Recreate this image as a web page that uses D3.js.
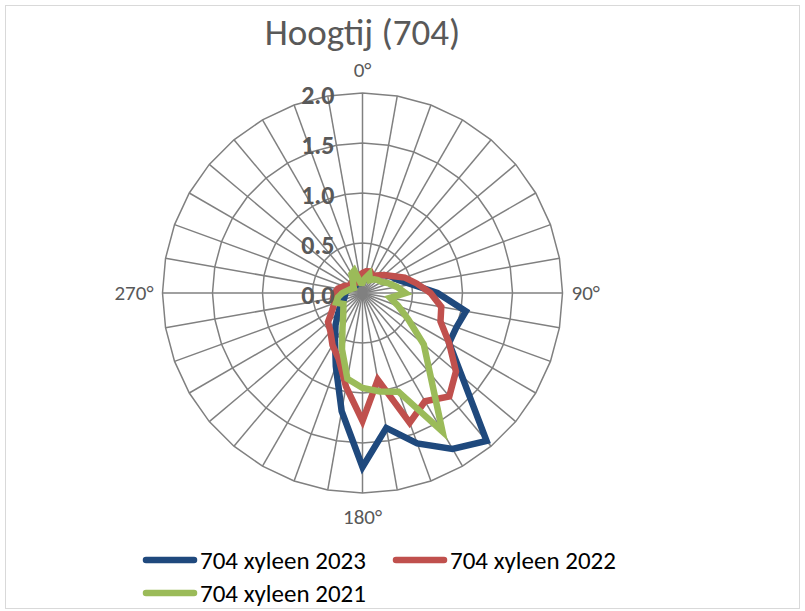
<!DOCTYPE html>
<html>
<head>
<meta charset="utf-8">
<script src="https://cdn.jsdelivr.net/npm/d3@7"></script>
<style>
  body { margin: 0; background: #fff; }
  svg { font-family: Calibri, Carlito, "Liberation Sans", sans-serif; }
</style>
</head>
<body>
<svg id="chart" width="805" height="611"></svg>
<script>
// directions, every 10 degrees
var angles = d3.range(0, 360, 10);
var angleLabels = {0: "0°", 90: "90°", 180: "180°", 270: "270°"};
var ticks = [0, 0.5, 1.0, 1.5, 2.0];

var names = ["704 xyleen 2023", "704 xyleen 2022", "704 xyleen 2021"];
var colors = ["#1F497D", "#C0504D", "#9BBB59"];

var xyleen2023 = [0.12, 0.15, 0.17, 0.18, 0.22, 0.28, 0.33, 0.38, 0.5, 0.75, 1.05, 1.0,
                  1.0, 1.3, 1.93, 1.8, 1.6, 1.37, 1.74, 1.2, 0.78, 0.55, 0.42, 0.32,
                  0.25, 0.2, 0.18, 0.17, 0.15, 0.13, 0.12, 0.12, 0.1, 0.1, 0.1, 0.1];
var xyleen2022 = [0.2, 0.22, 0.23, 0.2, 0.23, 0.28, 0.34, 0.45, 0.55, 0.68, 0.8, 0.83,
                  1.0, 1.22, 1.35, 1.25, 1.38, 0.88, 1.28, 0.95, 0.7, 0.6, 0.5, 0.45,
                  0.35, 0.3, 0.3, 0.28, 0.25, 0.2, 0.15, 0.15, 0.12, 0.12, 0.15, 0.18];
var xyleen2021 = [0.1, 0.15, 0.2, 0.15, 0.18, 0.2, 0.22, 0.28, 0.35, 0.43, 0.28, 0.38,
                  0.53, 0.8, 1.05, 1.6, 1.05, 1.0, 0.95, 0.87, 0.6, 0.4, 0.3, 0.25,
                  0.22, 0.28, 0.25, 0.2, 0.15, 0.12, 0.1, 0.12, 0.15, 0.22, 0.24, 0.1];
var series = [xyleen2023, xyleen2022, xyleen2021];

var svg = d3.select("#chart"),
    cx = 362.5, cy = 293, radius = 200;

var r = d3.scaleLinear().domain([0, 2]).range([0, radius]);
var a = d3.scaleLinear().domain([0, 360]).range([0, 2 * Math.PI]);

// chart border
svg.append("rect")
  .attr("x", 5.5).attr("y", 5.5)
  .attr("width", 794).attr("height", 603)
  .attr("fill", "#fff")
  .attr("stroke", "#d9d9d9");

svg.append("text")
  .attr("x", cx).attr("y", 45)
  .attr("text-anchor", "middle")
  .attr("fill", "#595959")
  .style("font-size", "37px")
  .text("Hoogtij (704)");

var g = svg.append("g")
  .attr("transform", "translate(" + cx + "," + cy + ")");

// web gridlines (polygons)
var web = d3.lineRadial()
  .angle(function(d) { return a(d[0]); })
  .radius(function(d) { return r(d[1]); })
  .curve(d3.curveLinearClosed);

g.selectAll(".ring")
  .data(ticks.slice(1))
  .enter().append("path")
  .attr("class", "ring")
  .attr("d", function(t) { return web(angles.map(function(an) { return [an, t]; })); })
  .attr("fill", "none")
  .attr("stroke", "#808080")
  .attr("stroke-width", 1.5);

g.selectAll(".spoke")
  .data(angles)
  .enter().append("line")
  .attr("class", "spoke")
  .attr("x1", 0).attr("y1", 0)
  .attr("x2", function(d) { return r(2) * Math.sin(a(d)); })
  .attr("y2", function(d) { return -r(2) * Math.cos(a(d)); })
  .attr("stroke", "#808080")
  .attr("stroke-width", 1.5);

// data lines
g.selectAll(".series")
  .data(series)
  .enter().append("path")
  .attr("class", "series")
  .attr("d", function(vals) { return web(vals.map(function(v, i) { return [angles[i], v]; })); })
  .attr("fill", "none")
  .attr("stroke", function(d, i) { return colors[i]; })
  .attr("stroke-width", 6.5)
  .attr("stroke-linejoin", "miter");

// value labels on the vertical axis
g.selectAll(".tick")
  .data(ticks)
  .enter().append("text")
  .attr("class", "tick")
  .attr("x", -28)
  .attr("y", function(d) { return -r(d) + 1.5; })
  .attr("dy", "0.35em")
  .attr("text-anchor", "end")
  .attr("fill", "#595959")
  .style("font-size", "26px")
  .style("font-weight", "bold")
  .text(function(d) { return d.toFixed(1); });

// direction labels
var catPos = {
  0:   {x: 0, y: -223, anchor: "middle"},
  90:  {x: 209, y: 0, anchor: "start"},
  180: {x: 0, y: 224, anchor: "middle"},
  270: {x: -209, y: 0, anchor: "end"}
};
g.selectAll(".cat")
  .data(angles.filter(function(d) { return angleLabels[d]; }))
  .enter().append("text")
  .attr("class", "cat")
  .attr("x", function(d) { return catPos[d].x; })
  .attr("y", function(d) { return catPos[d].y; })
  .attr("dy", "0.35em")
  .attr("text-anchor", function(d) { return catPos[d].anchor; })
  .attr("fill", "#595959")
  .style("font-size", "21px")
  .text(function(d) { return angleLabels[d]; });

// legend
var legendPos = [[143, 560], [393, 560], [143, 593]];
var legend = svg.selectAll(".legend")
  .data(names)
  .enter().append("g")
  .attr("class", "legend")
  .attr("transform", function(d, i) { return "translate(" + legendPos[i][0] + "," + legendPos[i][1] + ")"; });

legend.append("line")
  .attr("x1", 3).attr("x2", 51)
  .attr("stroke", function(d, i) { return colors[i]; })
  .attr("stroke-width", 6.5)
  .attr("stroke-linecap", "round");

legend.append("text")
  .attr("x", 57)
  .attr("dy", "0.35em")
  .attr("fill", "#000")
  .style("font-size", "25px")
  .text(function(d) { return d; });
</script>
</body>
</html>
